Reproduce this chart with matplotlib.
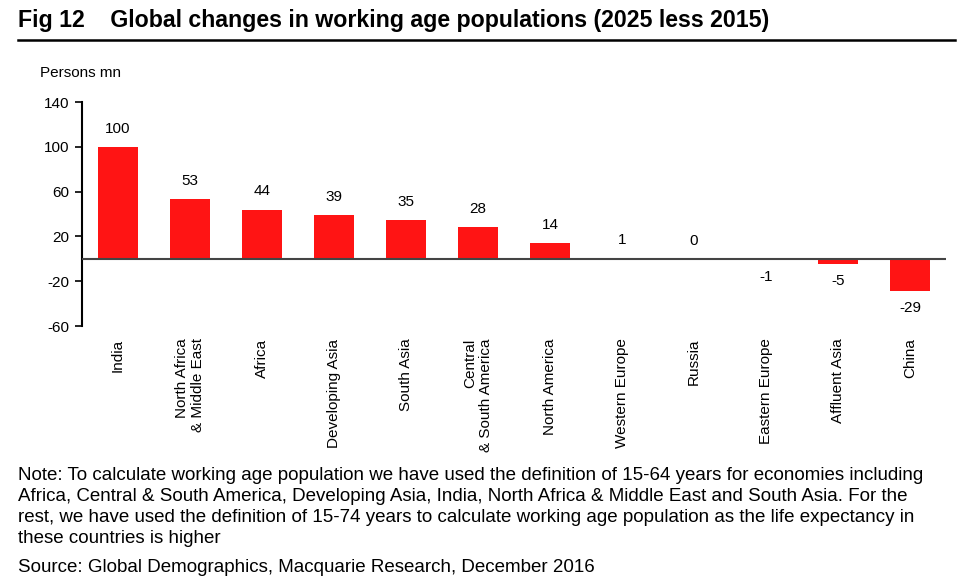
import matplotlib
matplotlib.use("Agg")
import matplotlib.pyplot as plt

categories = ["India", "North Africa\n& Middle East", "Africa", "Developing Asia",
              "South Asia", "Central\n& South America", "North America",
              "Western Europe", "Russia", "Eastern Europe", "Affluent Asia", "China"]
values = [100, 53, 44, 39, 35, 28, 14, 1, 0, -1, -5, -29]
yticks = [-60, -20, 20, 60, 100, 140]

plt.rcParams['font.family'] = ['Liberation Sans', 'DejaVu Sans']
plt.rcParams['axes.unicode_minus'] = False
narrow = ['Liberation Sans Narrow', 'Liberation Sans', 'DejaVu Sans']

fig = plt.figure(figsize=(9.6, 5.85), dpi=100)
W, H = 960, 585
ax = fig.add_axes([82 / W, 1 - 326 / H, (946 - 82) / W, (326 - 102) / H])

x = list(range(len(categories)))
bars = ax.bar(x, values, width=0.56, color='#FF1414', zorder=2)
ax.axhline(0, color='#444444', lw=1.5, zorder=3)

for xi, v in zip(x, values):
    if v >= 0:
        ax.annotate(f"{v}", (xi, v), xytext=(0, 13), textcoords='offset points',
                    ha='center', va='center', fontsize=11)
    else:
        ax.annotate(f"{v}", (xi, v), xytext=(0, -12), textcoords='offset points',
                    ha='center', va='center', fontsize=11)

ax.set_xlim(-0.5, len(categories) - 0.5)
ax.set_ylim(-60, 140)
ax.set_yticks(yticks)
ax.tick_params(axis='y', direction='out', length=5, width=1.2, labelsize=11, pad=4)
ax.set_xticks(x)
ax.set_xticklabels(categories, rotation=90, fontsize=11, multialignment='right')
ax.tick_params(axis='x', length=0, pad=9)
for s in ['top', 'right', 'bottom']:
    ax.spines[s].set_visible(False)
ax.spines['left'].set_linewidth(1.5)

fig.text(18 / W, 1 - 21 / H, "Fig 12    Global changes in working age populations (2025 less 2015)",
         fontsize=16.7, fontweight='bold', family=narrow, ha='left', va='center')
fig.add_artist(plt.Line2D([18 / W, 955 / W], [1 - 40 / H, 1 - 40 / H], color='black', lw=1.8))
fig.text(40 / W, 1 - 73 / H, "Persons mn", fontsize=11, family=narrow, ha='left', va='center')

note = ("Note: To calculate working age population we have used the definition of 15-64 years for economies including\n"
        "Africa, Central & South America, Developing Asia, India, North Africa & Middle East and South Asia. For the\n"
        "rest, we have used the definition of 15-74 years to calculate working age population as the life expectancy in\n"
        "these countries is higher")
fig.text(18 / W, 1 - 467 / H, note, fontsize=13.5, ha='left', va='top', linespacing=1.3)
fig.text(18 / W, 1 - 568 / H, "Source: Global Demographics, Macquarie Research, December 2016",
         fontsize=13.5, ha='left', va='center')

fig.savefig("out.png", dpi=100)
